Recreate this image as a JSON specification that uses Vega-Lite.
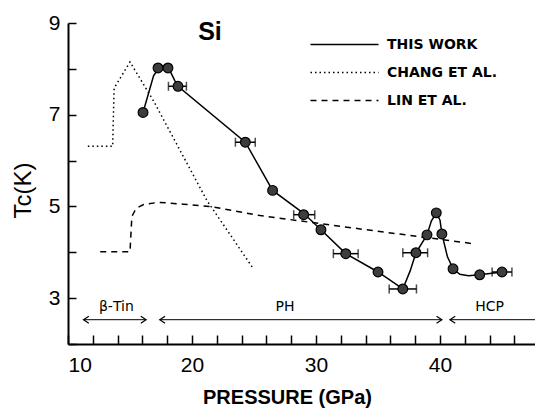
{
  "$schema": "https://vega.github.io/schema/vega-lite/v6.json",
  "width": 467,
  "height": 321,
  "autosize": "none",
  "padding": {"left": 68, "top": 23, "right": 0, "bottom": 64},
  "background": "white",
  "config": {
    "view": {"stroke": null},
    "font": "Liberation Sans",
    "axis": {
      "domainColor": "black",
      "domainWidth": 2,
      "grid": false,
      "labelColor": "black",
      "titleColor": "black",
      "labelFont": "Liberation Sans",
      "titleFont": "Liberation Sans"
    }
  },
  "datasets": {
    "pts": [
      {"p": 16.05, "tc": 7.05},
      {"p": 17.26, "tc": 8.02},
      {"p": 18.06, "tc": 8.02},
      {"p": 18.87, "tc": 7.62, "pmin": 18.1, "pmax": 19.55},
      {"p": 24.3, "tc": 6.4, "pmin": 23.5, "pmax": 25.1},
      {"p": 26.5, "tc": 5.35},
      {"p": 29.0, "tc": 4.82, "pmin": 28.2, "pmax": 29.9},
      {"p": 30.4, "tc": 4.49},
      {"p": 32.4, "tc": 3.97, "pmin": 31.4, "pmax": 33.4},
      {"p": 35.0, "tc": 3.57},
      {"p": 37.0, "tc": 3.2, "pmin": 35.9, "pmax": 38.1},
      {"p": 38.06, "tc": 3.99, "pmin": 37.0, "pmax": 39.0},
      {"p": 38.95, "tc": 4.38},
      {"p": 39.7, "tc": 4.86},
      {"p": 40.15, "tc": 4.4},
      {"p": 41.05, "tc": 3.64},
      {"p": 43.2, "tc": 3.51},
      {"p": 45.0, "tc": 3.57, "pmin": 44.2, "pmax": 45.8}
    ],
    "curves": [
      {"series": "THIS WORK", "k": 1, "p": 16.05, "tc": 7.05},
      {"series": "THIS WORK", "k": 2, "p": 16.9, "tc": 7.85},
      {"series": "THIS WORK", "k": 3, "p": 17.4, "tc": 8.05},
      {"series": "THIS WORK", "k": 4, "p": 18.06, "tc": 8.05},
      {"series": "THIS WORK", "k": 5, "p": 18.6, "tc": 7.75},
      {"series": "THIS WORK", "k": 6, "p": 18.87, "tc": 7.62},
      {"series": "THIS WORK", "k": 7, "p": 24.3, "tc": 6.4},
      {"series": "THIS WORK", "k": 8, "p": 26.5, "tc": 5.35},
      {"series": "THIS WORK", "k": 9, "p": 29.0, "tc": 4.85},
      {"series": "THIS WORK", "k": 10, "p": 30.4, "tc": 4.49},
      {"series": "THIS WORK", "k": 11, "p": 32.4, "tc": 3.97},
      {"series": "THIS WORK", "k": 12, "p": 35.0, "tc": 3.57},
      {"series": "THIS WORK", "k": 13, "p": 37.0, "tc": 3.2},
      {"series": "THIS WORK", "k": 14, "p": 37.6, "tc": 3.6},
      {"series": "THIS WORK", "k": 15, "p": 38.06, "tc": 3.99},
      {"series": "THIS WORK", "k": 16, "p": 38.95, "tc": 4.38},
      {"series": "THIS WORK", "k": 17, "p": 39.3, "tc": 4.68},
      {"series": "THIS WORK", "k": 18, "p": 39.7, "tc": 4.86},
      {"series": "THIS WORK", "k": 19, "p": 40.0, "tc": 4.7},
      {"series": "THIS WORK", "k": 20, "p": 40.15, "tc": 4.4},
      {"series": "THIS WORK", "k": 21, "p": 40.6, "tc": 3.9},
      {"series": "THIS WORK", "k": 22, "p": 41.05, "tc": 3.64},
      {"series": "THIS WORK", "k": 23, "p": 41.6, "tc": 3.52},
      {"series": "THIS WORK", "k": 24, "p": 42.3, "tc": 3.49},
      {"series": "THIS WORK", "k": 25, "p": 43.2, "tc": 3.51},
      {"series": "THIS WORK", "k": 26, "p": 45.0, "tc": 3.57},
      {"series": "CHANG ET AL.", "k": 1, "p": 11.6, "tc": 6.31},
      {"series": "CHANG ET AL.", "k": 2, "p": 13.6, "tc": 6.31},
      {"series": "CHANG ET AL.", "k": 3, "p": 13.72, "tc": 7.58},
      {"series": "CHANG ET AL.", "k": 4, "p": 15.0, "tc": 8.15},
      {"series": "CHANG ET AL.", "k": 5, "p": 16.9, "tc": 7.3},
      {"series": "CHANG ET AL.", "k": 6, "p": 21.2, "tc": 5.13},
      {"series": "CHANG ET AL.", "k": 7, "p": 24.9, "tc": 3.66},
      {"series": "LIN  ET AL.", "k": 1, "p": 12.6, "tc": 4.01},
      {"series": "LIN  ET AL.", "k": 2, "p": 15.0, "tc": 4.01},
      {"series": "LIN  ET AL.", "k": 3, "p": 15.15, "tc": 4.78},
      {"series": "LIN  ET AL.", "k": 4, "p": 15.5, "tc": 4.96},
      {"series": "LIN  ET AL.", "k": 5, "p": 16.1, "tc": 5.04},
      {"series": "LIN  ET AL.", "k": 6, "p": 17.3, "tc": 5.09},
      {"series": "LIN  ET AL.", "k": 7, "p": 19.3, "tc": 5.05},
      {"series": "LIN  ET AL.", "k": 8, "p": 21.45, "tc": 5.0},
      {"series": "LIN  ET AL.", "k": 9, "p": 25.5, "tc": 4.8},
      {"series": "LIN  ET AL.", "k": 10, "p": 33.55, "tc": 4.51},
      {"series": "LIN  ET AL.", "k": 11, "p": 42.6, "tc": 4.19}
    ],
    "phases": [
      {"phase": "β-Tin", "from": 11.25, "to": 16.3, "mid": 13.9},
      {"phase": "PH", "from": 17.4, "to": 40.15, "mid": 27.5},
      {"phase": "HCP", "from": 40.8, "to": 47.66, "mid": 44.0}
    ]
  },
  "encoding": {
    "x": {
      "type": "quantitative",
      "title": "PRESSURE (GPa)",
      "scale": {"domain": [10, 47.66], "nice": false, "zero": false},
      "axis": {
        "tickCount": 19,
        "labelExpr": "datum.value % 10 === 0 ? datum.label : ''",
        "labelOverlap": false,
        "ticks": true,
        "tickColor": "black",
        "tickWidth": 1.5,
        "tickSize": -9,
        "labelPadding": 19,
        "labelFontSize": 21,
        "titleFontSize": 20,
        "titleFontWeight": "bold",
        "titleX": 219,
        "titleY": 59,
        "titleBaseline": "alphabetic",
        "titleAlign": "center",
        "titleAnchor": null
      }
    },
    "y": {
      "type": "quantitative",
      "title": "Tc(K)",
      "scale": {"domain": [2, 9], "nice": false, "zero": false},
      "axis": {
        "tickCount": 7,
        "labelExpr": "datum.value % 2 === 1 ? datum.label : ''",
        "labelOverlap": false,
        "ticks": true,
        "tickColor": "black",
        "tickWidth": 1.5,
        "tickSize": -8,
        "labelPadding": 16,
        "labelFontSize": 21,
        "titleFontSize": 24,
        "titleFontWeight": "normal",
        "titleX": -45,
        "titleY": 167,
        "titleAngle": -90,
        "titleAlign": "center",
        "titleBaseline": "middle",
        "titleAnchor": null
      }
    }
  },
  "layer": [
    {
      "data": {"name": "curves"},
      "mark": {"type": "line", "color": "black", "strokeWidth": 1.5},
      "encoding": {
        "x": {"field": "p", "type": "quantitative"},
        "y": {"field": "tc", "type": "quantitative"},
        "order": {"field": "k", "type": "quantitative"},
        "strokeDash": {
          "field": "series",
          "type": "nominal",
          "scale": {
            "domain": ["THIS WORK", "CHANG ET AL.", "LIN  ET AL."],
            "range": [[1000, 0], [1.5, 3], [6, 5]]
          },
          "legend": {
            "title": null,
            "orient": "none",
            "legendX": 267,
            "legendY": 12,
            "symbolType": "M-4,0H4",
            "symbolSize": 289,
            "symbolStrokeWidth": 1.5,
            "symbolStrokeColor": "black",
            "symbolFillColor": "transparent",
            "labelFont": "DejaVu Sans",
            "labelFontWeight": "bold",
            "labelFontSize": 14,
            "labelColor": "black",
            "labelOffset": 33,
            "rowPadding": 11,
            "padding": 0
          }
        }
      }
    },
    {
      "data": {"name": "pts"},
      "transform": [{"filter": "isValid(datum.pmin)"}],
      "mark": {"type": "errorbar", "ticks": {"size": 9, "thickness": 1.5, "color": "black"}, "rule": {"strokeWidth": 1.5}, "color": "black"},
      "encoding": {
        "x": {"field": "pmin", "type": "quantitative"},
        "x2": {"field": "pmax"},
        "y": {"field": "tc", "type": "quantitative"}
      }
    },
    {
      "data": {"name": "pts"},
      "mark": {"type": "point", "shape": "circle", "filled": true, "size": 95, "fill": "#3d3d3d", "stroke": "black", "strokeWidth": 1.2, "opacity": 1},
      "encoding": {
        "x": {"field": "p", "type": "quantitative"},
        "y": {"field": "tc", "type": "quantitative"}
      }
    },
    {
      "data": {"name": "phases"},
      "mark": {"type": "rule", "color": "black", "strokeWidth": 1},
      "encoding": {
        "x": {"field": "from", "type": "quantitative"},
        "x2": {"field": "to"},
        "y": {"datum": 2.53}
      }
    },
    {
      "data": {"name": "phases"},
      "mark": {"type": "point", "shape": "M1.5,-1L0,0L1.5,1", "filled": false, "size": 50, "stroke": "black", "strokeWidth": 1.2, "opacity": 1},
      "encoding": {
        "x": {"field": "from", "type": "quantitative"},
        "y": {"datum": 2.53}
      }
    },
    {
      "data": {"name": "phases"},
      "transform": [{"filter": "datum.to < 47"}],
      "mark": {"type": "point", "shape": "M-1.5,-1L0,0L-1.5,1", "filled": false, "size": 50, "stroke": "black", "strokeWidth": 1.2, "opacity": 1},
      "encoding": {
        "x": {"field": "to", "type": "quantitative"},
        "y": {"datum": 2.53}
      }
    },
    {
      "data": {"name": "phases"},
      "mark": {"type": "text", "font": "DejaVu Sans", "fontSize": 14, "baseline": "alphabetic", "align": "center", "color": "black"},
      "encoding": {
        "x": {"field": "mid", "type": "quantitative"},
        "y": {"datum": 2.72},
        "text": {"field": "phase"}
      }
    },
    {
      "data": {"values": [{"label": "Si"}]},
      "mark": {"type": "text", "font": "Liberation Sans", "fontWeight": "bold", "fontSize": 25, "baseline": "alphabetic", "align": "center", "color": "black"},
      "encoding": {
        "x": {"datum": 21.45},
        "y": {"datum": 8.63},
        "text": {"field": "label"}
      }
    }
  ]
}
